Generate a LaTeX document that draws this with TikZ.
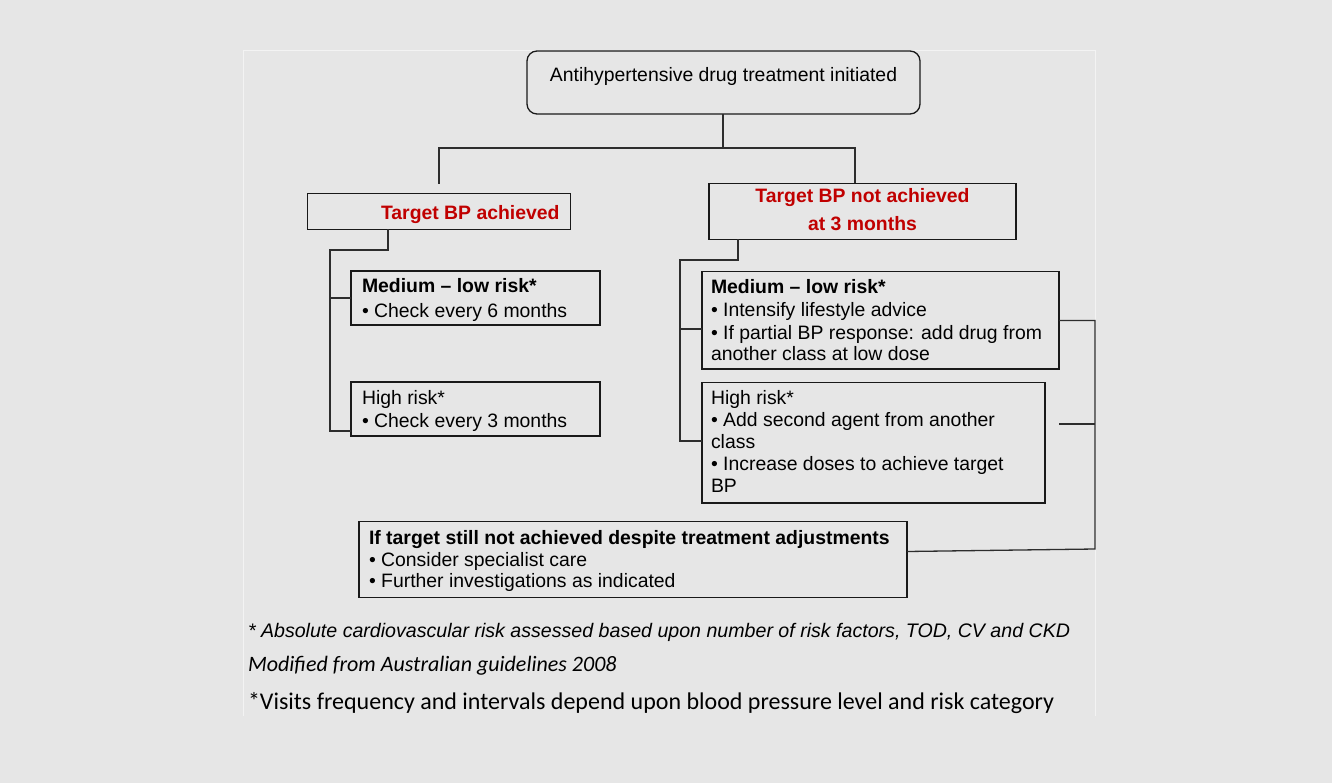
\documentclass[tikz,border=0pt]{standalone}
\usepackage{fontspec}
\setmainfont{Liberation Sans}
\newfontfamily\calib{Carlito}
\definecolor{bg}{RGB}{230,230,230}
\definecolor{tred}{RGB}{192,0,0}
\definecolor{framec}{RGB}{243,243,243}
\definecolor{ink}{RGB}{25,25,25}
\definecolor{cink}{RGB}{45,45,45}
\begin{document}
\begin{tikzpicture}[x=1pt,y=-1pt,
  box/.style={draw=ink, line width=1.3pt, rectangle, inner sep=0pt, outer sep=0pt},
  conn/.style={draw=cink, line width=1.3pt},
  txt/.style={inner sep=0pt, outer sep=0pt, anchor=base west, font=\fontsize{19.4}{22}\selectfont, text=black},
  btxt/.style={txt, font=\fontsize{19.4}{22}\selectfont\bfseries},
  rtxt/.style={txt, font=\fontsize{19.4}{22}\selectfont\bfseries, text=tred}]
\fill[bg] (0,0) rectangle (1332,783);
\useasboundingbox (0,0) rectangle (1332,783);
% faint frame
\draw[framec, line width=1pt] (243,716) -- (243,51) -- (1095,51) -- (1095,716);

% boxes
\node[box, rounded corners=10pt, minimum width=393pt, minimum height=63pt] (start) at (723.5,82.5) {};
\node[txt, anchor=base] (starttxt) at (723.5,81.7) {Antihypertensive drug treatment initiated};

\node[box, minimum width=263pt, minimum height=36pt] (ach) at (439,211.3) {};
\node[rtxt] (achtxt) at (381,220) {Target BP achieved};

\node[box, minimum width=307pt, minimum height=56pt] (nach) at (862.5,211.3) {};
\node[rtxt, anchor=base] (nachtxt1) at (862.5,203) {Target BP not achieved};
\node[rtxt, anchor=base] (nachtxt2) at (862.5,231) {at 3 months};

\node[box, minimum width=249pt, minimum height=54pt] (lmed) at (475.5,298) {};
\node[btxt] (lmed1) at (362,293) {Medium – low risk*};
\node[txt] (lmed2) at (362,317) {• Check every 6 months};

\node[box, minimum width=249pt, minimum height=54pt] (lhigh) at (475.5,409) {};
\node[txt] (lhigh1) at (362,404) {High risk*};
\node[txt] (lhigh2) at (362,427) {• Check every 3 months};

\node[box, minimum width=357pt, minimum height=97.5pt] (rmed) at (880.5,320.25) {};
\node[btxt] (rmed1) at (711,294) {Medium – low risk*};
\node[txt] (rmed2) at (711,316.5) {• Intensify lifestyle advice};
\node[txt] (rmed3) at (711,339) {• If partial BP response: add drug from};
\node[txt] (rmed4) at (711,360.5) {another class at low dose};

\node[box, minimum width=343pt, minimum height=120.5pt] (rhigh) at (873.5,442.75) {};
\node[txt] (rhigh1) at (711,404) {High risk*};
\node[txt] (rhigh2) at (711,426.5) {• Add second agent from another};
\node[txt] (rhigh3) at (711,448) {class};
\node[txt] (rhigh4) at (711,470.5) {• Increase doses to achieve target};
\node[txt] (rhigh5) at (711,492) {BP};

\node[box, minimum width=548pt, minimum height=76pt] (fin) at (633,559.5) {};
\node[btxt] (fin1) at (369,544) {If target still not achieved despite treatment adjustments};
\node[txt] (fin2) at (369,566.5) {• Consider specialist care};
\node[txt] (fin3) at (369,587.5) {• Further investigations as indicated};

% connector coordinates
\coordinate (sj) at (723,148);
\coordinate (lj) at (439,148);
\coordinate (rj) at (855,148);
\coordinate (lend) at (439,184);
\coordinate (la) at (388,250);
\coordinate (lb) at (330,250);
\coordinate (lc) at (330,431);
\coordinate (ra) at (738,260);
\coordinate (rb) at (680,260);
\coordinate (rc) at (680,441);
\coordinate (rm) at (680,329);
\coordinate (ea) at (1095,320.5);
\coordinate (eb) at (1095,424);
\coordinate (ec) at (1095,549);
\coordinate (hs) at (1059,424);
\coordinate (fe) at (907,551.5);

% connectors
\draw[conn] (start.south -| sj) -- (sj);
\draw[conn] (lend) -- (lj) -- (rj) -- (nach.north -| rj);
\draw[conn] (ach.south -| la) -- (la) -- (lb) -- (lc) -- (lhigh.west |- lc);
\draw[conn] (lb |- lmed.west) -- (lmed.west);
\draw[conn] (nach.south -| ra) -- (ra) -- (rb) -- (rc) -- (rhigh.west |- rc);
\draw[conn] (rm) -- (rmed.west |- rm);
\draw[conn] (rmed.east |- ea) -- (ea) -- (ec) -- (fe);
\draw[conn] (hs) -- (eb);

% footnotes
\node[txt, font=\fontsize{19.6}{22}\selectfont\itshape] (foot1) at (248,637.7) {* Absolute cardiovascular risk assessed based upon number of risk factors, TOD, CV and CKD};
\node[txt, font=\calib\fontsize{22}{24}\selectfont\itshape] (foot2) at (248,671.7) {Modified from Australian guidelines 2008};
\node[txt, font=\calib\fontsize{24}{26}\selectfont] (foot3) at (248,709.3) {*Visits frequency and intervals depend upon blood pressure level and risk category};
\end{tikzpicture}
\end{document}
